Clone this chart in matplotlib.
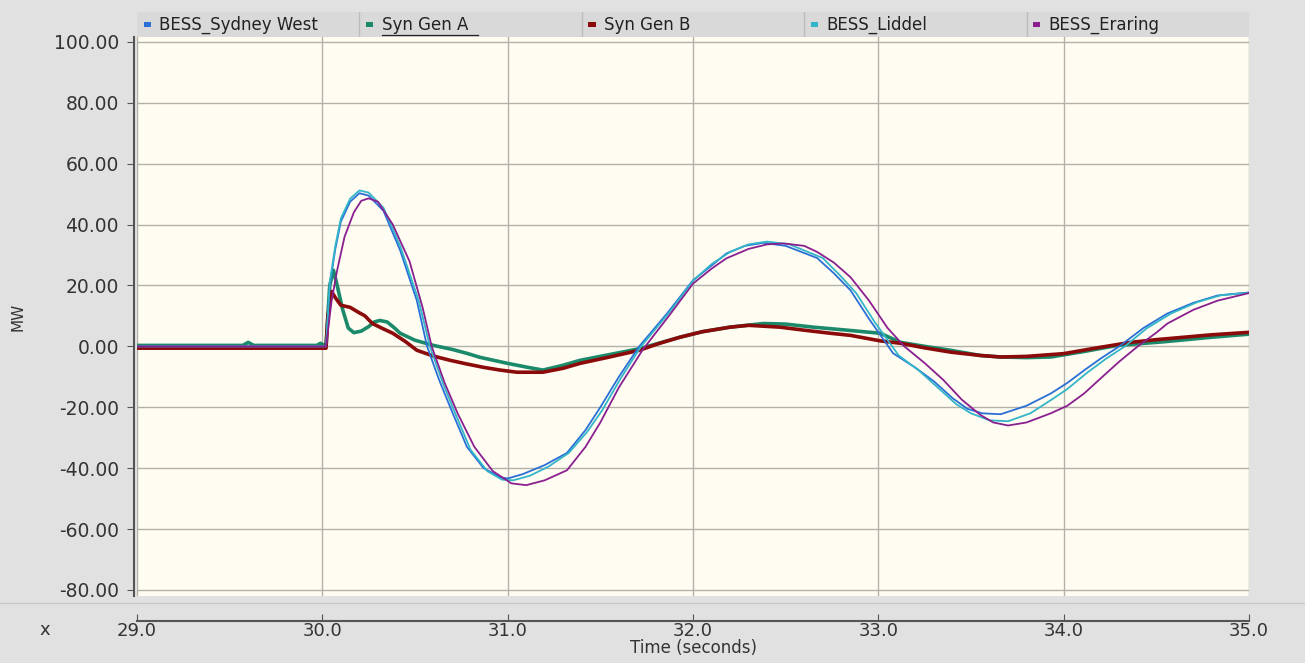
import matplotlib.pyplot as plt
import matplotlib.patches as mpatches

# --- data (time in s, power in MW) ---
SERIES_NAMES = ["BESS_Sydney West", "Syn Gen A", "Syn Gen B", "BESS_Liddel", "BESS_Eraring"]

t_sydney = [29.0, 30.02, 30.04, 30.07, 30.10, 30.15, 30.20, 30.25, 30.33, 30.42, 30.51, 30.565,
            30.63, 30.69, 30.78, 30.87, 30.96, 31.0, 31.08, 31.2, 31.32, 31.42, 31.5, 31.6, 31.71,
            31.86, 32.0, 32.1, 32.18, 32.28, 32.38, 32.5, 32.67, 32.76, 32.85, 32.95, 33.08, 33.2,
            33.3, 33.4, 33.48, 33.56, 33.66, 33.8, 33.93, 34.02, 34.11, 34.2, 34.3, 34.43, 34.56,
            34.7, 34.83, 35.0]
v_sydney = [0, 0, 20, 32, 41, 47.5, 50.3, 49.5, 44.5, 31.5, 15, 0,
            -11, -20, -33, -40, -43, -43.4, -42, -39, -35, -27.5, -20, -10, 0,
            10.8, 21.7, 26.5, 30.5, 33, 34, 33, 29, 24, 18.4, 9, -2.3, -7,
            -11.5, -17, -20.5, -22, -22.3, -19.5, -15.5, -12, -7.9, -4, 0, 6, 10.8,
            14.3, 16.7, 17.7]

t_liddel = [29.0, 30.02, 30.04, 30.07, 30.10, 30.15, 30.20, 30.25, 30.33, 30.42, 30.52, 30.58,
            30.65, 30.71, 30.80, 30.89, 30.97, 31.03, 31.12, 31.22, 31.33, 31.43, 31.51, 31.61,
            31.72, 31.87, 32.0, 32.1, 32.2, 32.3, 32.4, 32.52, 32.7, 32.79, 32.88, 32.98, 33.11,
            33.22, 33.32, 33.42, 33.5, 33.6, 33.7, 33.82, 33.93, 34.02, 34.13, 34.23, 34.33, 34.45,
            34.58, 34.72, 34.85, 35.0]
v_liddel = [0, 0, 21, 33, 42, 48.5, 51.2, 50.5, 45.5, 33, 15, 0,
            -12, -21, -34, -41, -43.8, -44, -42.5, -39.5, -35, -28, -21, -10.5,
            0, 11, 21.5, 27, 31, 33.5, 34.4, 33.5, 29, 23.5, 17.5, 8, -3,
            -8, -13.5, -19, -22, -24.3, -24.6, -22, -17.7, -14, -8.5, -4, 0, 6,
            10.8, 14.5, 16.8, 17.6]

t_eraring = [29.0, 30.02, 30.05, 30.08, 30.12, 30.17, 30.21, 30.25, 30.30, 30.38, 30.47, 30.54,
             30.59, 30.66, 30.73, 30.82, 30.92, 31.02, 31.10, 31.2, 31.32, 31.42, 31.5, 31.6,
             31.73, 31.87, 32.0, 32.1, 32.18, 32.3, 32.4, 32.49, 32.6, 32.67, 32.76, 32.85, 32.95,
             33.05, 33.14, 33.25, 33.35, 33.45, 33.55, 33.62, 33.70, 33.8, 33.93, 34.02, 34.11,
             34.2, 34.3, 34.40, 34.5, 34.56, 34.7, 34.83, 35.0]
v_eraring = [0, 0, 15, 25, 36, 44, 47.8, 48.6, 47.5, 40, 28, 13,
             0, -12, -22, -33, -41, -45, -45.6, -44, -40.7, -33, -25, -13.5,
             -1, 10, 20.6, 25.5, 28.9, 32, 33.5, 33.8, 33, 31, 27.5, 22.7, 15,
             6, 0, -5.5, -11, -17.5, -22.5, -25, -26, -25, -22, -19.5, -15.5,
             -10.5, -5, 0, 4.5, 7.5, 12, 15, 17.5]

t_gen_a = [29.0, 29.57, 29.6, 29.63, 29.97, 29.99, 30.01, 30.02, 30.04, 30.06, 30.08, 30.11,
           30.14, 30.17, 30.21, 30.25, 30.28, 30.31, 30.35, 30.39, 30.42, 30.5, 30.6, 30.7,
           30.78, 30.85, 31.0, 31.1, 31.19, 31.3, 31.39, 31.55, 31.71, 31.93, 32.05, 32.2,
           32.38, 32.5, 32.65, 32.85, 33.01, 33.12, 33.25, 33.39, 33.55, 33.66, 33.8, 33.93,
           34.1, 34.29, 34.54, 34.8, 35.0]
v_gen_a = [0.3, 0.3, 1.3, 0.3, 0.3, 1.0, 0.3, 0.5, 20, 25, 20, 12,
           6, 4.5, 5, 6.5, 8, 8.5, 8, 6, 4.3, 2, 0.3, -1,
           -2.3, -3.6, -5.6, -6.8, -7.8, -6.2, -4.6, -2.7, -0.8, 3, 4.8, 6.3,
           7.5, 7.3, 6.3, 5.2, 4.3, 1.3, 0, -1.3, -3, -3.5, -3.7, -3.5,
           -1.8, 0.3, 1.5, 3, 4]

t_gen_b = [29.0, 30.02, 30.03, 30.05, 30.07, 30.1, 30.15, 30.2, 30.23, 30.27, 30.32, 30.38,
           30.45, 30.51, 30.6, 30.69, 30.78, 30.87, 30.96, 31.05, 31.19, 31.3, 31.39, 31.55,
           31.71, 31.82, 31.93, 32.05, 32.2, 32.3, 32.47, 32.6, 32.74, 32.85, 33.01, 33.12,
           33.25, 33.39, 33.55, 33.66, 33.8, 34.0, 34.18, 34.36, 34.5, 34.65, 34.8, 35.0]
v_gen_b = [-0.6, -0.6, 10, 18, 16, 13.5, 12.8, 11, 10, 7.5, 6, 4.3,
           1.5, -1.3, -3.2, -4.6, -5.8, -6.9, -7.8, -8.5, -8.5, -7.2, -5.6, -3.5,
           -1.3, 1, 3, 4.8, 6.3, 6.9, 6.3, 5.3, 4.3, 3.6, 1.8, 1,
           -0.5, -1.9, -3, -3.5, -3.3, -2.4, -0.5, 1.3, 2.2, 3, 3.8, 4.6]

Y_TICKS = [100, 80, 60, 40, 20, 0, -20, -40, -60, -80]
X_TICKS = [29.0, 30.0, 31.0, 32.0, 33.0, 34.0, 35.0]

COLOURS = {
    "BESS_Sydney West": "#2a6fd6",
    "Syn Gen A": "#1b8a6b",
    "Syn Gen B": "#8b0a0a",
    "BESS_Liddel": "#33b5c8",
    "BESS_Eraring": "#8a1f8f",
}

FIG_BG = "#e1e1e1"
PLOT_BG = "#fffcf2"
GRID = "#b4b0aa"
AXIS = "#555555"
TEXT = "#333333"

W, H = 1305, 663
fig = plt.figure(figsize=(W / 100, H / 100), dpi=100, facecolor=FIG_BG)

# plot area in pixels: x 137..1249, y 37..596
left, right, top, bottom = 137, 1249, 37, 596
ax = fig.add_axes([left / W, (H - bottom) / H, (right - left) / W, (bottom - top) / H])
ax.set_facecolor(PLOT_BG)

ax.set_xlim(29.0, 35.0)
ax.set_ylim(-82.0, 101.6)

ax.grid(True, color=GRID, linewidth=1.0)
ax.set_axisbelow(True)

# synchronous machines: thick lines underneath
ax.plot(t_gen_a, v_gen_a, color=COLOURS["Syn Gen A"], linewidth=2.6, zorder=2)
ax.plot(t_gen_b, v_gen_b, color=COLOURS["Syn Gen B"], linewidth=2.6, zorder=3)
# batteries: thin lines on top
ax.plot(t_sydney, v_sydney, color=COLOURS["BESS_Sydney West"], linewidth=1.3, zorder=4)
ax.plot(t_liddel, v_liddel, color=COLOURS["BESS_Liddel"], linewidth=1.3, zorder=5)
ax.plot(t_eraring, v_eraring, color=COLOURS["BESS_Eraring"], linewidth=1.3, zorder=6)

for s in ["top", "right"]:
    ax.spines[s].set_visible(False)
ax.spines["left"].set_color(AXIS)
ax.spines["left"].set_linewidth(1.5)
ax.spines["left"].set_position(("outward", 2))
ax.spines["bottom"].set_color(AXIS)
ax.spines["bottom"].set_linewidth(1.5)
ax.spines["bottom"].set_position(("outward", 18))

ax.set_yticks(Y_TICKS)
ax.set_yticklabels([f"{v:.2f}" for v in Y_TICKS])
ax.set_xticks(X_TICKS)
ax.set_xticklabels([f"{v:.1f}" for v in X_TICKS])
ax.tick_params(axis="y", direction="out", length=5, color=AXIS, labelsize=13.5,
               labelcolor=TEXT, pad=6)
ax.tick_params(axis="x", direction="in", length=5, color=AXIS, labelsize=13,
               labelcolor=TEXT, pad=1)

ax.set_ylabel("MW", fontsize=11, color=TEXT, labelpad=20)
ax.set_xlabel("Time (seconds)", fontsize=12, color=TEXT, labelpad=-1)

# separator between plot panel and x-axis panel
fig.add_artist(plt.Line2D([0, 1], [(H - 603) / H] * 2, color="#c8c8c8", linewidth=1.0))
fig.text(45 / W, (H - 630) / H, "x", fontsize=13, color=TEXT, ha="center", va="center")

# legend strip above the plot
leg = fig.add_axes([left / W, (H - top) / H, (right - left) / W, 25 / H])
leg.set_facecolor("#d9d9d9")
leg.set_xlim(0, len(SERIES_NAMES))
leg.set_ylim(0, 1)
leg.set_xticks([])
leg.set_yticks([])
for s in leg.spines.values():
    s.set_visible(False)
for i, name in enumerate(SERIES_NAMES):
    if i > 0:
        leg.axvline(i, color="#bdbdbd", linewidth=1.0)
    leg.add_patch(mpatches.Rectangle((i + 0.03, 0.4), 0.032, 0.22,
                                     color=COLOURS[name], linewidth=0))
    leg.text(i + 0.1, 0.5, name, fontsize=12, color="#222222", va="center", ha="left")
    if name == "Syn Gen A":
        leg.plot([i + 0.1, i + 0.535], [0.08, 0.08], color="#222222", linewidth=0.9)

plt.savefig("out.png", dpi=100, facecolor=FIG_BG)
